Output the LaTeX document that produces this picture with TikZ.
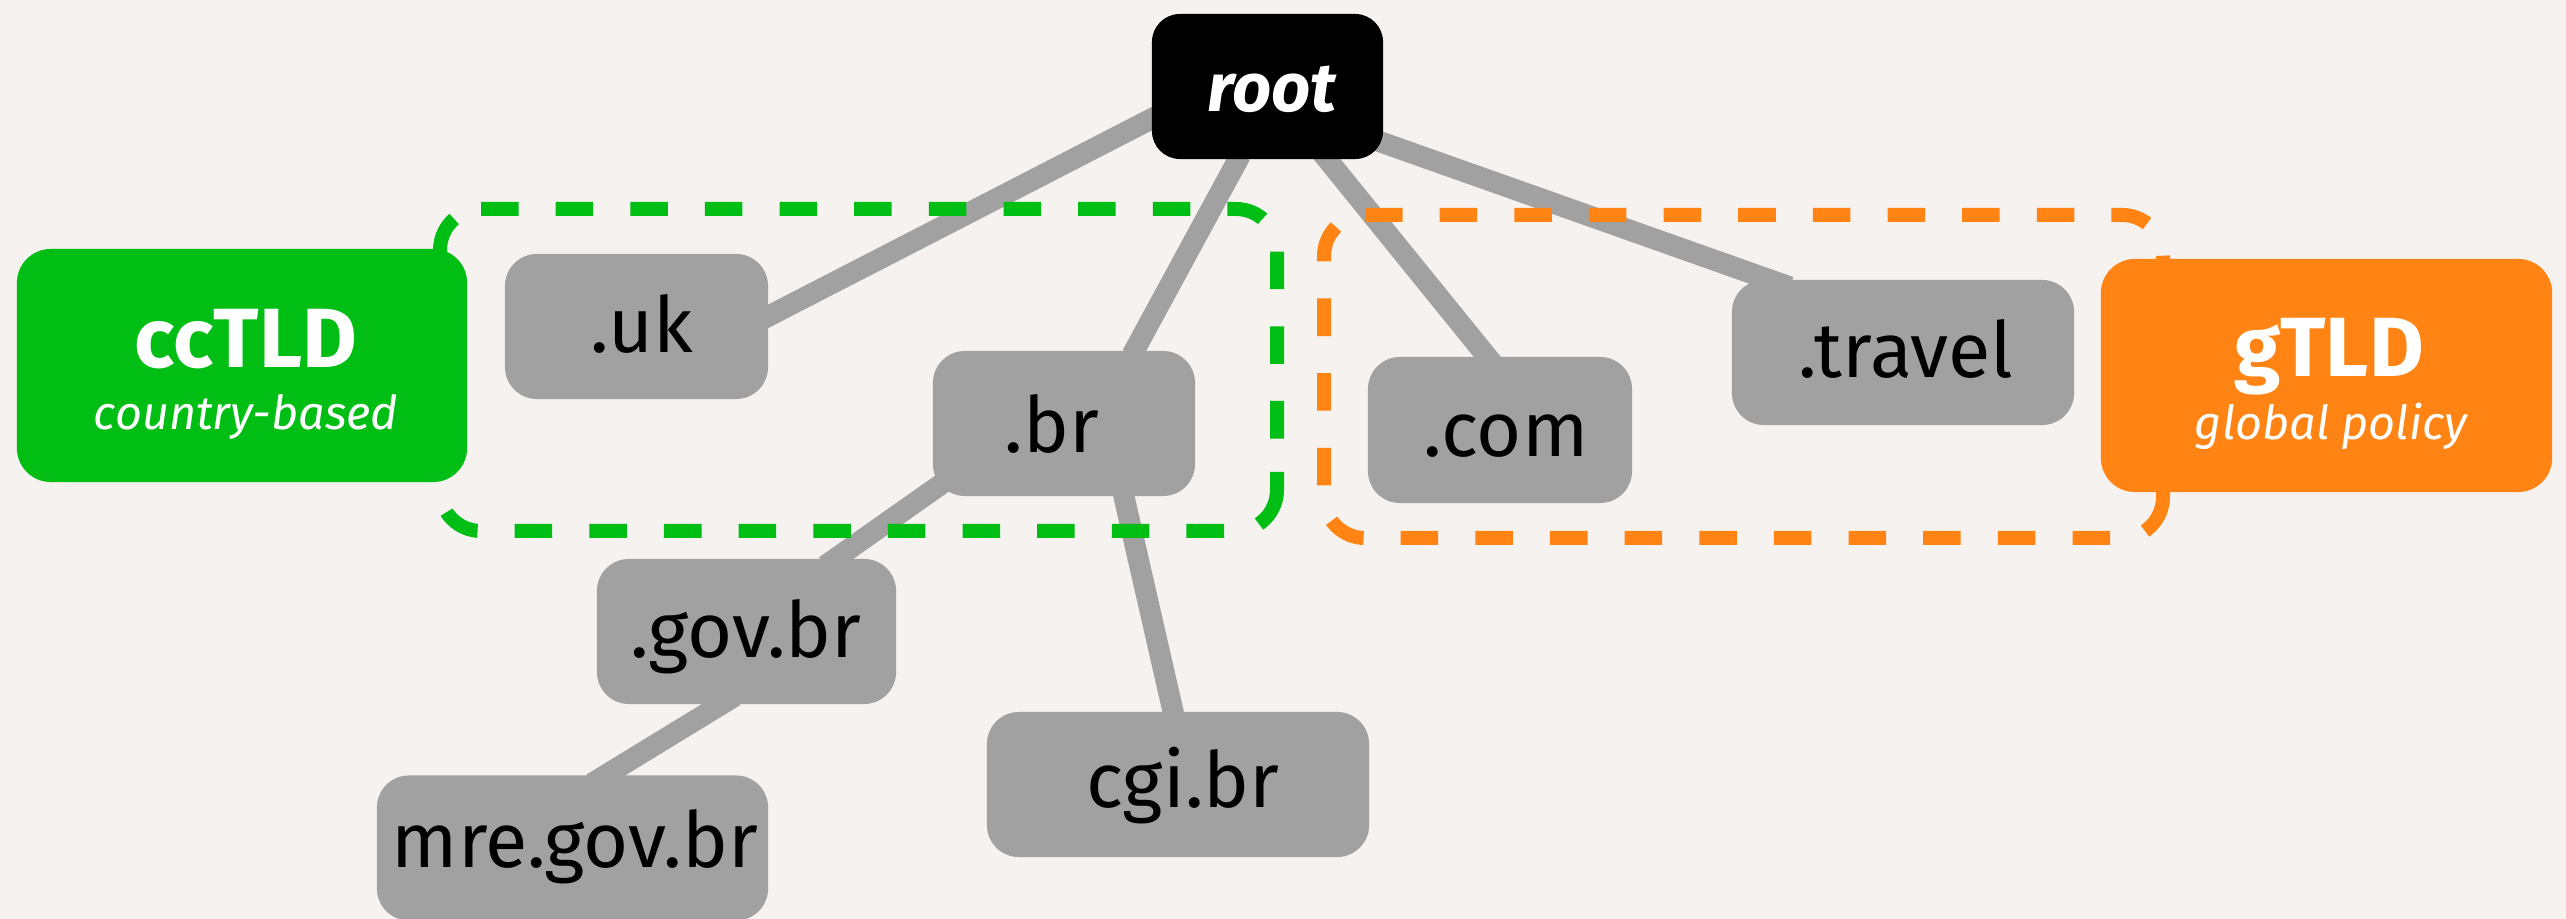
\documentclass[tikz,border=0pt]{standalone}
\usepackage{fontspec}
\setmainfont{Fira Sans}
\usetikzlibrary{calc}
\definecolor{bgc}{HTML}{F6F2EF}
\definecolor{ngray}{HTML}{A1A1A1}
\definecolor{ccgreen}{HTML}{00BE14}
\definecolor{gorange}{HTML}{FF8413}
\pgfdeclarelayer{back}
\pgfdeclarelayer{links}
\pgfdeclarelayer{groups}
\pgfsetlayers{back,links,groups,main}
\begin{document}
\begin{tikzpicture}[x=0.01cm,y=-0.01cm,
  box/.style={rectangle, inner sep=0pt, outer sep=0pt, draw=none},
  graybox/.style={box, fill=ngray, rounded corners=0.32cm, minimum height=1.45cm},
  tldbox/.style={box, rounded corners=0.34cm, minimum height=2.33cm},
  rootbox/.style={box, fill=black, rounded corners=0.28cm, minimum width=2.31cm, minimum height=1.45cm},
  dom/.style={anchor=base, inner sep=0pt, text=black, font=\fontsize{22}{26}\selectfont},
  rootlbl/.style={anchor=base, inner sep=0pt, text=white, font=\bfseries\itshape\fontsize{19.5}{23}\selectfont},
  tldname/.style={anchor=base, inner sep=0pt, text=white, font=\bfseries\fontsize{23.9}{28}\selectfont},
  tldsub/.style={anchor=base, inner sep=0pt, text=white, font=\itshape\fontsize{13.3}{16}\selectfont},
  link/.style={draw=ngray, line width=0.21cm},
  grpline/.style={line width=0.14cm, rounded corners=0.41cm},
  grpdash/.style={grpline, dash pattern=on 0.375cm off 0.371cm},
  grpcorner/.style={grpline, dash pattern=on 0.58cm off 3cm}
]
\useasboundingbox (0,0) rectangle (2566,919);
\begin{pgfonlayer}{back}
  \fill[bgc] (0,0) rectangle (2566,919);
\end{pgfonlayer}

% nodes
\node[rootbox] (root) at (1267.5,86.5) {};
\node[rootlbl] (roott) at (1272,112) {root};

\node[tldbox, fill=ccgreen, minimum width=4.50cm] (cc) at (242,365.5) {};
\node[tldname] (cct) at (246,368) {ccTLD};
\node[tldsub] (ccs) at (246,430) {country-based};

\node[tldbox, fill=gorange, minimum width=4.51cm] (gt) at (2326.5,375.5) {};
\node[tldname] (gtt) at (2329,377) {gTLD};
\node[tldsub] (gts) at (2331,440) {global policy};

\node[graybox, minimum width=2.63cm] (uk) at (636.5,326.5) {};
\node[dom] (ukt) at (642,353) {.uk};
\node[graybox, minimum width=2.62cm] (br) at (1064,423.5) {};
\node[dom] (brt) at (1052,453) {.br};
\node[graybox, minimum width=2.99cm] (gov) at (746.5,631.5) {};
\node[dom] (govt) at (746,658) {.gov.br};
\node[graybox, minimum width=3.91cm] (mre) at (572.5,848) {};
\node[dom] (mret) at (575,868) {mre.gov.br};
\node[graybox, minimum width=3.82cm] (cgi) at (1178,784.5) {};
\node[dom] (cgit) at (1183,808) {cgi.br};
\node[graybox, minimum width=2.64cm, minimum height=1.46cm] (com) at (1500,430) {};
\node[dom] (comt) at (1506,457) {.com};
\node[graybox, minimum width=3.42cm] (travel) at (1903,352.5) {};
\node[dom] (travelt) at (1906,378) {.travel};

% connectors
\begin{pgfonlayer}{links}
  \draw[link] ($(root.west)+(8,28)$) -- ($(uk.east)+(-8,-6)$);
  \draw[link] ($(root.south)+(-27,-4)$) -- ($(br.north)+(68,4)$);
  \draw[link] ($(root.south)+(53,-8)$) -- ($(com.north)+(-7,7)$);
  \draw[link] ($(root.east)+(-8,53.5)$) -- ($(travel.north west)+(58,7)$);
  \draw[link] ($(br.south west)+(17,-18)$) -- ($(gov.north)+(78.5,7)$);
  \draw[link] ($(br.south)+(58,-8)$) -- ($(cgi.north)+(-3,8)$);
  \draw[link] ($(gov.south)+(-11.5,-8)$) -- ($(mre.north)+(19.5,8)$);
\end{pgfonlayer}

% groups
\begin{pgfonlayer}{groups}
  \draw[grpdash, draw=ccgreen] (481,209) -- (1277,209) -- (1277,472);
  \draw[grpcorner, draw=ccgreen] (1277,472) -- (1277,531) -- (1224,531);
  \draw[grpdash, draw=ccgreen] (1224,531) -- (440,531) -- (440,209) -- (481,209);
  \draw[grpdash, draw=gorange] (1365,215) -- (2163,215) -- (2163,479);
  \draw[grpcorner, draw=gorange] (2163,479) -- (2163,538) -- (2110,538);
  \draw[grpdash, draw=gorange] (2110,538) -- (1324,538) -- (1324,215) -- (1365,215);
\end{pgfonlayer}
\end{tikzpicture}
\end{document}
